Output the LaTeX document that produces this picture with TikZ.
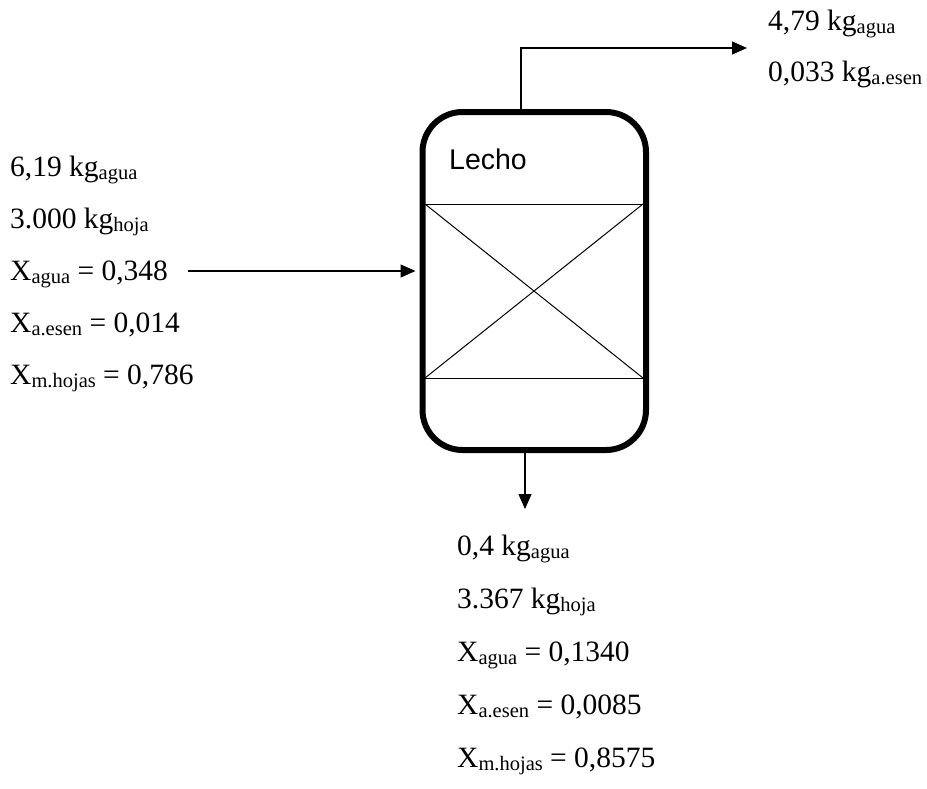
\documentclass[tikz,border=0pt]{standalone}
\usepackage{fontspec}
\setmainfont{Liberation Serif}
\newfontfamily\lechofont{Liberation Sans}
\usetikzlibrary{arrows.meta}
\newcommand{\sbs}[1]{\raisebox{-3pt}{\fontsize{20.5}{21}\selectfont #1}}
\tikzset{
  lbl/.style={anchor=base west, inner sep=0pt, font=\fontsize{29.5}{31}\selectfont},
  flow/.style={line width=1.1pt, -{Triangle[length=15pt,width=13pt]}},
  vesselbox/.style={draw, line width=6pt, rounded corners=40pt,
    minimum width=223.5pt, minimum height=338pt, inner sep=0pt},
  internal/.style={line width=1pt}
}
\begin{document}
\begin{tikzpicture}[x=1pt,y=-1pt]
\useasboundingbox (0,0) rectangle (927,788);

% vessel
\node[vesselbox] (vessel) at (534.25,281) {};
\draw[internal] (425,204) -- (643,204);
\draw[internal] (425,378) -- (643,378);
\draw[internal] (425,204) -- (643,378);
\draw[internal] (425,378) -- (643,204);
\node[anchor=base west, inner sep=0pt, font=\lechofont\fontsize{28.5}{30}\selectfont] (lecho) at (449,169) {Lecho};

% free ends
\coordinate (instart) at (188,271);
\coordinate (topend) at (747,48);
\coordinate (botend) at (525,509);

% connectors
\draw[flow] (instart) -- ([xshift=-4pt]vessel.west |- instart);
\draw[flow] ([xshift=-13.25pt]vessel.north) |- (topend);
\draw[flow] ([xshift=-9.25pt]vessel.south) -- (botend);

% inlet texts
\node[lbl] (i1) at (10,176) {6,19 kg\sbs{agua}};
\node[lbl] (i2) at (10,228) {3.000 kg\sbs{hoja}};
\node[lbl] (i3) at (10,280) {X\sbs{agua} = 0,348};
\node[lbl] (i4) at (10,332) {X\sbs{a.esen} = 0,014};
\node[lbl] (i5) at (10,384) {X\sbs{m.hojas} = 0,786};

% top outlet texts
\node[lbl] (t1) at (768,30) {4,79 kg\sbs{agua}};
\node[lbl] (t2) at (768,81) {0,033 kg\sbs{a.esen}};

% bottom outlet texts
\node[lbl] (b1) at (457,555) {0,4 kg\sbs{agua}};
\node[lbl] (b2) at (457,608) {3.367 kg\sbs{hoja}};
\node[lbl] (b3) at (457,661) {X\sbs{agua} = 0,1340};
\node[lbl] (b4) at (457,714) {X\sbs{a.esen} = 0,0085};
\node[lbl] (b5) at (457,767) {X\sbs{m.hojas} = 0,8575};
\end{tikzpicture}
\end{document}
